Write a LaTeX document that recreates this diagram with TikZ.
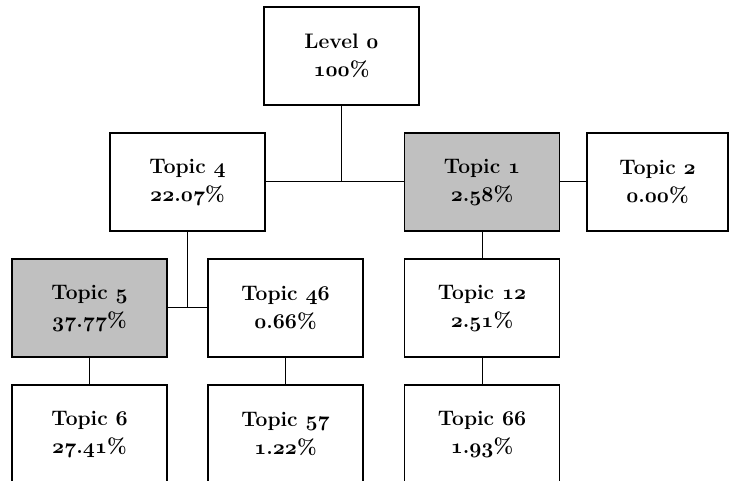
\documentclass[tikz,border=0pt]{standalone}
\usepackage{xcolor}
\definecolor{tree-grey}{HTML}{C0C0C0}
\definecolor{tree-line}{HTML}{000000}
\usepackage{tikz}

% old style figures, any size
\DeclareFontFamily{OML}{osn}{\skewchar\font127}
\DeclareFontShape{OML}{osn}{m}{it}{<->cmmi10}{}
\DeclareFontShape{OML}{osn}{b}{it}{<->cmmib10}{}
\DeclareFontShape{OML}{osn}{bx}{it}{<->cmmib10}{}
\newcommand{\osn}[1]{{\usefont{OML}{osn}{b}{it}#1}}
\newcommand{\share}[2]{\osn{#1}.\osn{#2}\%}

\begin{document}
\begin{tikzpicture}[x=1pt, y=-1pt,
    topicbox/.style={draw=tree-line, line width=1.1pt, fill=white,
        minimum width=155pt, minimum height=98pt, inner sep=0pt,
        align=center, font=\fontsize{21}{28}\selectfont\bfseries},
    picked/.style={fill=tree-grey},
    link/.style={draw=tree-line, line width=1pt}]

    % Page
    \useasboundingbox (0, 0) rectangle (729, 481);
    \clip (0, 0) rectangle (729, 481);

    % Top
    \node[topicbox] (lvl0) at (341.5, 56) {Level \osn{0}\\\osn{100}\%};

    % Second row
    \node[topicbox] (t4) at (187.5, 182) {Topic \osn{4}\\\share{22}{07}};
    \node[topicbox, picked] (t1) at (482, 182) {Topic \osn{1}\\\share{2}{58}};
    \node[topicbox, minimum width=141pt] (t2) at (657.5, 182) {Topic \osn{2}\\\share{0}{00}};

    % Third row
    \node[topicbox, picked] (t5) at (89.5, 308) {Topic \osn{5}\\\share{37}{77}};
    \node[topicbox] (t46) at (285.5, 308) {Topic \osn{46}\\\share{0}{66}};
    \node[topicbox] (t12) at (482, 308) {Topic \osn{12}\\\share{2}{51}};

    % Bottom row
    \node[topicbox] (t6) at (89.5, 434) {Topic \osn{6}\\\share{27}{41}};
    \node[topicbox] (t57) at (285.5, 434) {Topic \osn{57}\\\share{1}{22}};
    \node[topicbox] (t66) at (482, 434) {Topic \osn{66}\\\share{1}{93}};

    % Links
    \draw[link] (lvl0.south) -- (lvl0.south |- t4.east);
    \draw[link] (t4.east) -- (t1.west);
    \draw[link] (t1.east) -- (t2.west);
    \draw[link] (t1.south) -- (t12.north);
    \draw[link] (t12.south) -- (t66.north);
    \draw[link] (t4.south) -- (t4.south |- t5.east);
    \draw[link] (t5.east) -- (t46.west);
    \draw[link] (t5.south) -- (t6.north);
    \draw[link] (t46.south) -- (t57.north);

\end{tikzpicture}
\end{document}
